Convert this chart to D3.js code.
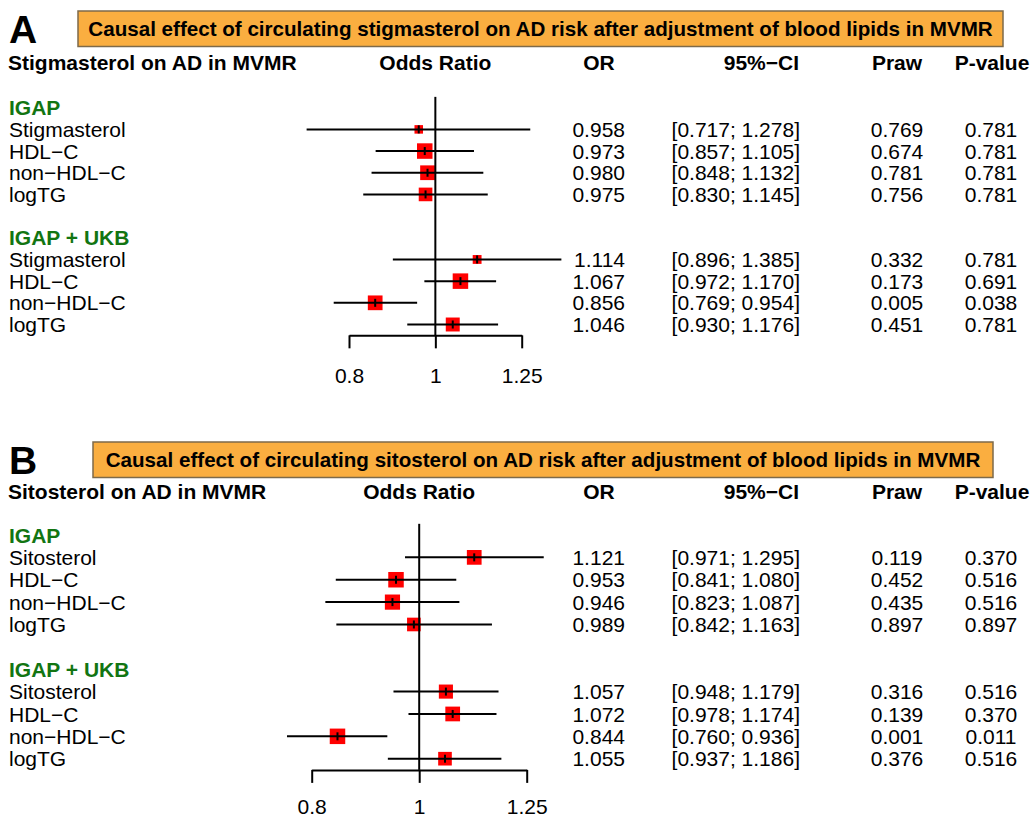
<!DOCTYPE html>
<html><head><meta charset="utf-8">
<script src="https://cdn.jsdelivr.net/npm/d3@7"></script>
<style>
body{margin:0;background:#fff}
text{font-family:"Liberation Sans",Arial,Helvetica,sans-serif;fill:#000}
</style>
</head><body>
<svg id="chart" width="1033" height="818"></svg>
<script>
// ---------------- DATA ----------------
const groupNames = ["IGAP", "IGAP + UKB"];
const tickValues = [0.8, 1, 1.25];
const tickLabels = ["0.8", "1", "1.25"];
const columnHeaders = ["OR", "95%−CI", "Praw", "P-value"];

// Panel A – stigmasterol
const labelsA = ["Stigmasterol", "HDL−C", "non−HDL−C", "logTG"];
const orA_IGAP   = [0.958, 0.973, 0.980, 0.975];
const loA_IGAP   = [0.717, 0.857, 0.848, 0.830];
const hiA_IGAP   = [1.278, 1.105, 1.132, 1.145];
const prawA_IGAP = ["0.769", "0.674", "0.781", "0.756"];
const padjA_IGAP = ["0.781", "0.781", "0.781", "0.781"];
const wA_IGAP    = [0.55, 1.00, 0.95, 0.88];
const orA_UKB    = [1.114, 1.067, 0.856, 1.046];
const loA_UKB    = [0.896, 0.972, 0.769, 0.930];
const hiA_UKB    = [1.385, 1.170, 0.954, 1.176];
const prawA_UKB  = ["0.332", "0.173", "0.005", "0.451"];
const padjA_UKB  = ["0.781", "0.691", "0.038", "0.781"];
const wA_UKB     = [0.57, 1.00, 0.95, 0.90];

// Panel B – sitosterol
const labelsB = ["Sitosterol", "HDL−C", "non−HDL−C", "logTG"];
const orB_IGAP   = [1.121, 0.953, 0.946, 0.989];
const loB_IGAP   = [0.971, 0.841, 0.823, 0.842];
const hiB_IGAP   = [1.295, 1.080, 1.087, 1.163];
const prawB_IGAP = ["0.119", "0.452", "0.435", "0.897"];
const padjB_IGAP = ["0.370", "0.516", "0.516", "0.897"];
const wB_IGAP    = [0.95, 1.00, 0.98, 0.88];
const orB_UKB    = [1.057, 1.072, 0.844, 1.055];
const loB_UKB    = [0.948, 0.978, 0.760, 0.937];
const hiB_UKB    = [1.179, 1.174, 0.936, 1.186];
const prawB_UKB  = ["0.316", "0.139", "0.001", "0.376"];
const padjB_UKB  = ["0.516", "0.370", "0.011", "0.516"];
const wB_UKB     = [0.91, 0.95, 1.00, 0.88];

function rows(labels, or, lo, hi, praw, padj, w) {
  return labels.map((l, i) => ({label: l, or: or[i], lo: lo[i], hi: hi[i], praw: praw[i], padj: padj[i], w: w[i]}));
}

const panels = [
  {
    letter: "A",
    title: "Causal effect of circulating stigmasterol on AD risk after adjustment of blood lipids in MVMR",
    header: "Stigmasterol on AD in MVMR",
    groups: [rows(labelsA, orA_IGAP, loA_IGAP, hiA_IGAP, prawA_IGAP, padjA_IGAP, wA_IGAP),
             rows(labelsA, orA_UKB, loA_UKB, hiA_UKB, prawA_UKB, padjA_UKB, wA_UKB)],
    // layout
    box: [78, 11, 1003, 46.5], letterBase: 43, headerY: 62,
    row0: 107.7, rowStep: 21.68, xRange: [349, 521.7], tickLabelY: 375
  },
  {
    letter: "B",
    title: "Causal effect of circulating sitosterol on AD risk after adjustment of blood lipids in MVMR",
    header: "Sitosterol on AD in MVMR",
    groups: [rows(labelsB, orB_IGAP, loB_IGAP, hiB_IGAP, prawB_IGAP, padjB_IGAP, wB_IGAP),
             rows(labelsB, orB_UKB, loB_UKB, hiB_UKB, prawB_UKB, padjB_UKB, wB_UKB)],
    box: [93, 442, 993, 477.5], letterBase: 474, headerY: 491,
    row0: 535, rowStep: 22.37, xRange: [311.7, 526.7], tickLabelY: 806
  }
];

// ---------------- DRAW ----------------
const svg = d3.select("#chart");
const FS = 21;
// column anchors: [x, anchor] for header and values
const colLayout = {
  or:   {hx: 599, ha: "middle", vx: 625, va: "end"},
  ci:   {hx: 799, ha: "end",    vx: 800, va: "end"},
  praw: {hx: 897, ha: "middle", vx: 897, va: "middle"},
  padj: {hx: 992, ha: "middle", vx: 991, va: "middle"}
};
const green = "#127512";

panels.forEach(p => {
  const g = svg.append("g");
  const x = d3.scaleLog().domain([tickValues[0], tickValues[tickValues.length - 1]]).range(p.xRange);
  const y = d3.scaleLinear().domain([0, 1]).range([p.row0, p.row0 + p.rowStep]);
  const size = d3.scaleLinear().domain([0, 1]).range([0, 15.5]);

  // letter
  g.append("text").attr("x", 9).attr("y", p.letterBase)
    .style("font-size", "39px").style("font-weight", "bold").text(p.letter);

  // title box
  const [bx0, by0, bx1, by1] = p.box;
  g.append("rect").attr("x", bx0).attr("y", by0).attr("width", bx1 - bx0).attr("height", by1 - by0)
    .attr("fill", "#FAAE40").attr("stroke", "#7d6a4a").attr("stroke-width", 1.5);
  g.append("text").attr("x", (bx0 + bx1) / 2).attr("y", (by0 + by1) / 2).attr("dy", "0.36em")
    .attr("text-anchor", "middle").style("font-size", "20.6px").style("font-weight", "bold").text(p.title);

  // header row
  const hdr = g.append("g").style("font-size", FS + "px").style("font-weight", "bold");
  hdr.append("text").attr("x", 8).attr("y", p.headerY).attr("dy", "0.36em").text(p.header);
  hdr.append("text").attr("x", x(1)).attr("y", p.headerY).attr("dy", "0.36em").attr("text-anchor", "middle").text("Odds Ratio");
  const keys = ["or", "ci", "praw", "padj"];
  columnHeaders.forEach((h, i) => {
    const c = colLayout[keys[i]];
    hdr.append("text").attr("x", c.hx).attr("y", p.headerY).attr("dy", "0.36em")
      .attr("text-anchor", c.ha).text(h);
  });

  const fmt = d3.format(".3f");
  p.groups.forEach((grp, gi) => {
    const base = gi * 6;
    g.append("text").attr("x", 9).attr("y", y(base)).attr("dy", "0.36em")
      .style("font-size", FS + "px").style("font-weight", "bold").style("fill", green)
      .text(groupNames[gi]);
    grp.forEach((d, i) => {
      const yy = y(base + 1 + i);
      const t = g.append("g").style("font-size", FS + "px");
      t.append("text").attr("x", 9).attr("y", yy).attr("dy", "0.36em").text(d.label);
      const vals = {or: fmt(d.or), ci: "[" + fmt(d.lo) + "; " + fmt(d.hi) + "]", praw: d.praw, padj: d.padj};
      keys.forEach(k => {
        const c = colLayout[k];
        t.append("text").attr("x", c.vx).attr("y", yy).attr("dy", "0.36em").attr("text-anchor", c.va).text(vals[k]);
      });

      const s = size(d.w);
      g.append("rect").attr("x", x(d.or) - s / 2).attr("y", yy - s / 2).attr("width", s).attr("height", s)
        .attr("fill", "#ff0000");
      g.append("line").attr("x1", x(d.lo)).attr("x2", x(d.hi)).attr("y1", yy).attr("y2", yy)
        .attr("stroke", "#000").attr("stroke-width", 2);
      g.append("line").attr("x1", x(d.or)).attr("x2", x(d.or)).attr("y1", yy - 4).attr("y2", yy + 4)
        .attr("stroke", "#000").attr("stroke-width", 2);
    });
  });

  // reference line at 1
  const axisY = y(10.5);
  g.append("line").attr("x1", x(1)).attr("x2", x(1)).attr("y1", y(-0.5)).attr("y2", axisY)
    .attr("stroke", "#000").attr("stroke-width", 2);

  // axis
  const axis = d3.axisBottom(x).tickValues(tickValues).tickFormat((v, i) => tickLabels[i])
    .tickSize(13).tickSizeOuter(0);
  const ag = g.append("g").attr("transform", `translate(0,${axisY})`).call(axis);
  ag.select(".domain").attr("stroke", "#000").attr("stroke-width", 2);
  ag.selectAll(".tick line").attr("stroke", "#000").attr("stroke-width", 2);
  ag.selectAll(".tick text").style("font-size", FS + "px").style("font-family", '"Liberation Sans",Arial,Helvetica,sans-serif')
    .attr("fill", "#000").attr("y", p.tickLabelY - axisY).attr("dy", "0.36em");
});
</script>
</body></html>
